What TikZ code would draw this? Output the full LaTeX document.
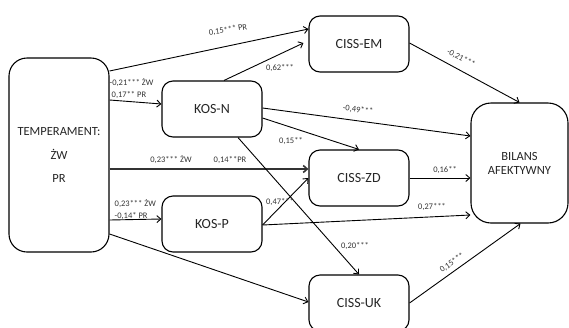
\documentclass[tikz,border=0pt]{standalone}
\usepackage{fontspec}
\setmainfont{Carlito}
\usetikzlibrary{arrows.meta}
\begin{document}
\begin{tikzpicture}[x=1pt,y=-1pt,
  box/.style={draw,line width=1.1pt,rounded corners=11pt,minimum width=100pt,minimum height=56pt,inner sep=0pt,font=\fontsize{14}{16}\selectfont,text=black!85},
  arr/.style={line width=0.9pt,-{Straight Barb[length=4pt,width=7pt]}},
  lab/.style={font=\fontsize{8.5}{10}\selectfont,text=black!80,inner sep=0.5pt}]
\useasboundingbox (0,0) rectangle (569,327);
\clip (0,0) rectangle (569,327);
\node[box,minimum height=194pt,rounded corners=18pt,align=center,font=\fontsize{12.5}{15}\selectfont] (temp) at (59,155) {TEMPERAMENT:\\[9pt]ŻW\\[8pt]PR};
\node[box] (kosn) at (212,109) {KOS-N};
\node[box] (kosp) at (212,224) {KOS-P};
\node[box] (em) at (359,44) {CISS-EM};
\node[box] (zd) at (359,178) {CISS-ZD};
\node[box] (uk) at (359,303) {CISS-UK};
\node[box,minimum width=97pt,minimum height=120pt,rounded corners=20pt,align=center,font=\fontsize{12.5}{14}\selectfont] (bil) at (519.5,163) {BILANS\\AFEKTYWNY};

\draw[arr] ([yshift=84pt]temp.east) -- ([yshift=15pt]em.west);
\draw[arr] ([yshift=55pt]temp.east) -- ([yshift=5pt]kosn.west);
\draw[arr,line width=1.6pt,draw=black!80] ([yshift=-14pt]temp.east) -- ([yshift=9pt]zd.west);
\draw[arr] ([yshift=-65pt]temp.east) -- ([yshift=5pt]kosp.west);
\draw[arr] ([yshift=-79pt]temp.east) -- ([yshift=1pt]uk.west);
\draw[arr] ([xshift=12pt]kosn.north) -- ([xshift=-5pt,yshift=1pt]em.west);
\draw[arr] ([yshift=1pt]kosn.east) -- ([yshift=27pt]bil.west);
\draw[arr] ([yshift=-9pt]kosn.east) -- (zd.north);
\draw[arr] ([xshift=26pt]kosn.south) -- (uk.north);
\draw[arr] ([yshift=-1pt]kosp.east) -- (zd.west);
\draw[arr] ([yshift=-1pt]kosp.east) -- ([yshift=-52pt]bil.west);
\draw[arr] ([yshift=1pt]em.east) -- (bil.north);
\draw[arr] (zd.east) -- ([yshift=-15pt]bil.west);
\draw[arr] (uk.east) -- ([xshift=1pt]bil.south);

\node[lab,rotate=9] (l1) at (228,30) {0,15*** PR};
\node[lab,anchor=west] (l2) at (109,83) {-0,21*** ŻW};
\node[lab,anchor=west] (l3) at (111,95.5) {0,17** PR};
\node[lab] (l4) at (171,160) {0,23*** ŻW};
\node[lab] (l5) at (230,160) {0,14**PR};
\node[lab,anchor=west] (l6) at (114,204) {0,23*** ŻW};
\node[lab,anchor=west] (l7) at (114,216) {-0,14* PR};
\node[lab] (l8) at (280,68) {0,62***};
\node[lab,rotate=-7] (l9) at (358,110) {-0,49***};
\node[lab] (l10) at (291,141) {0,15**};
\node[lab] (l11) at (355,246) {0,20***};
\node[lab] (l12) at (280,202) {0,47***};
\node[lab,rotate=2] (l13) at (432,207) {0,27***};
\node[lab,rotate=-28] (l14) at (461,58) {-0,21***};
\node[lab] (l15) at (445,170) {0,16**};
\node[lab,rotate=35] (l16) at (452,263) {0,15***};
\end{tikzpicture}
\end{document}
